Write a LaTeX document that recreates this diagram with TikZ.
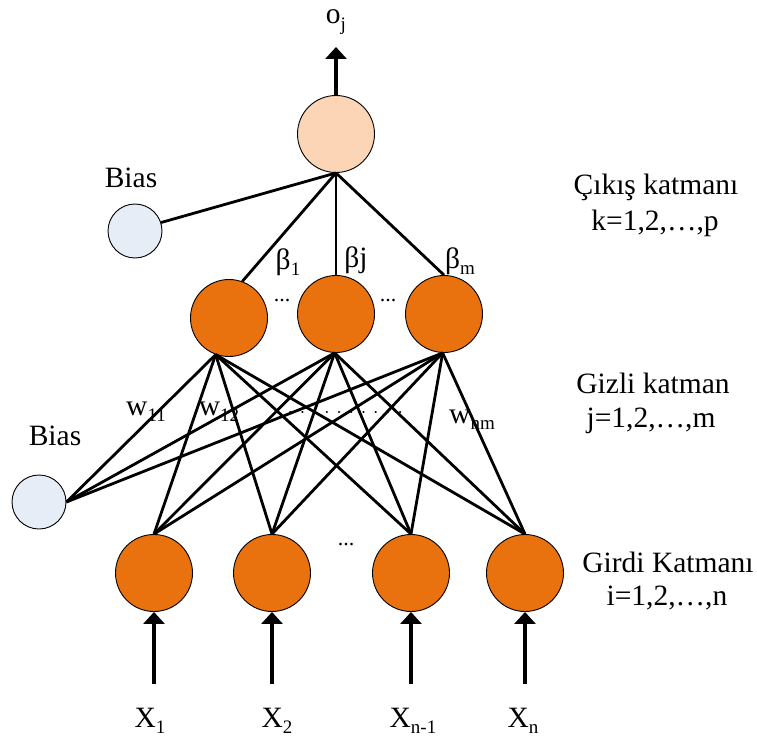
\documentclass[tikz,border=0pt]{standalone}
\usepackage{fontspec}
\setmainfont{Liberation Serif}
\usetikzlibrary{arrows.meta}
\definecolor{orangefill}{RGB}{233,113,14}
\definecolor{peach}{RGB}{251,213,181}
\definecolor{biasfill}{RGB}{230,237,247}
% lowered index in the text font
\newcommand{\lowidx}[1]{\raisebox{-0.22em}{\fontsize{19}{19}\selectfont #1}}
\begin{document}
\begin{tikzpicture}[x=1pt,y=-1pt,
  neuron/.style={circle,draw=black,line width=0.9pt,fill=orangefill,minimum size=77pt,inner sep=0pt},
  outnode/.style={circle,draw=black,line width=0.9pt,fill=peach,minimum size=77pt,inner sep=0pt},
  biasnode/.style={circle,draw=black,line width=0.9pt,fill=biasfill,minimum size=54pt,inner sep=0pt},
  link/.style={line width=2.8pt},
  feed/.style={line width=4.2pt,-{Triangle[width=21pt,length=12pt]}},
  lbl/.style={font=\fontsize{29.5}{34}\selectfont,inner sep=0pt,anchor=base},
  dotlbl/.style={font=\fontsize{22}{22}\selectfont,inner sep=0pt,anchor=base}
]
\useasboundingbox (0,0) rectangle (757,738);

% neurons
\node[outnode] (out) at (336,134) {};
\node[biasnode] (b1) at (135,231) {};
\node[biasnode] (b2) at (39,502) {};
\node[neuron] (h1) at (229,318) {};
\node[neuron] (h2) at (336,314) {};
\node[neuron] (h3) at (444,314) {};
\node[neuron] (i1) at (154,573) {};
\node[neuron] (i2) at (272,573) {};
\node[neuron] (i3) at (411,573) {};
\node[neuron] (i4) at (525,573) {};

% labels
\node[lbl] (lo) at (336,24) {o\lowidx{j}};
\node[lbl] (lb1) at (131,188) {Bias};
\node[lbl] (lb2) at (55,445) {Bias};
\node[lbl] (lbeta1) at (288,269) {β\lowidx{1}};
\node[lbl] (lbetaj) at (356,267) {βj};
\node[lbl] (lbetam) at (460,268) {β\lowidx{m}};
\node[lbl] (lw11) at (146,415) {w\lowidx{11}};
\node[lbl] (lw12) at (219,415) {w\lowidx{12}};
\node[lbl] (lwnm) at (472,423) {w\lowidx{nm}};
\node[dotlbl] (hd1) at (282,301) {...};
\node[dotlbl] (hd2) at (388,301) {...};
\node[dotlbl] (id) at (346,545) {...};
\node[lbl] (lx1) at (150,727) {X\lowidx{1}};
\node[lbl] (lx2) at (277,727) {X\lowidx{2}};
\node[lbl] (lx3) at (413,727) {X\lowidx{n-1}};
\node[lbl] (lx4) at (523,727) {X\lowidx{n}};
\node[lbl] (ok1) at (656,195) {Çıkış katmanı};
\node[lbl] (ok2) at (655,230) {k=1,2,…,p};
\node[lbl] (hk1) at (653,393) {Gizli katman};
\node[lbl] (hk2) at (651,427) {j=1,2,…,m};
\node[lbl] (ik1) at (668,572) {Girdi Katmanı};
\node[lbl] (ik2) at (667,605) {i=1,2,…,n};

% output links
\draw[link] (out.south) -- (b1.18);
\draw[link] (out.south) -- (h1.70);
\draw[link] (out.south) -- (h2.north);
\draw[link] (out.south) -- (h3.north);

% hidden to input links
\foreach \h/\a in {h1/250,h2/268,h3/268}{
  \foreach \i in {i1,i2,i3,i4}{
    \draw[link] (\h.\a) -- (\i.north);
  }
  \draw[link] (b2.east) -- (\h.\a);
}

% weight dots
\coordinate (dotsL) at (278,412);
\coordinate (dotsR) at (412,412);
\draw[line width=2.6pt,line cap=round,dash pattern=on 0.01pt off 12.2pt] (dotsL) -- (dotsR);

% output arrow
\coordinate (otip) at (336,47);
\draw[feed] (out.north) -- (otip);

% input arrows
\foreach \i/\x in {i1/154,i2/272,i3/411,i4/525}{
  \coordinate (s\i) at (\x,684);
  \draw[feed] (s\i) -- (\i.south);
}
\end{tikzpicture}
\end{document}
